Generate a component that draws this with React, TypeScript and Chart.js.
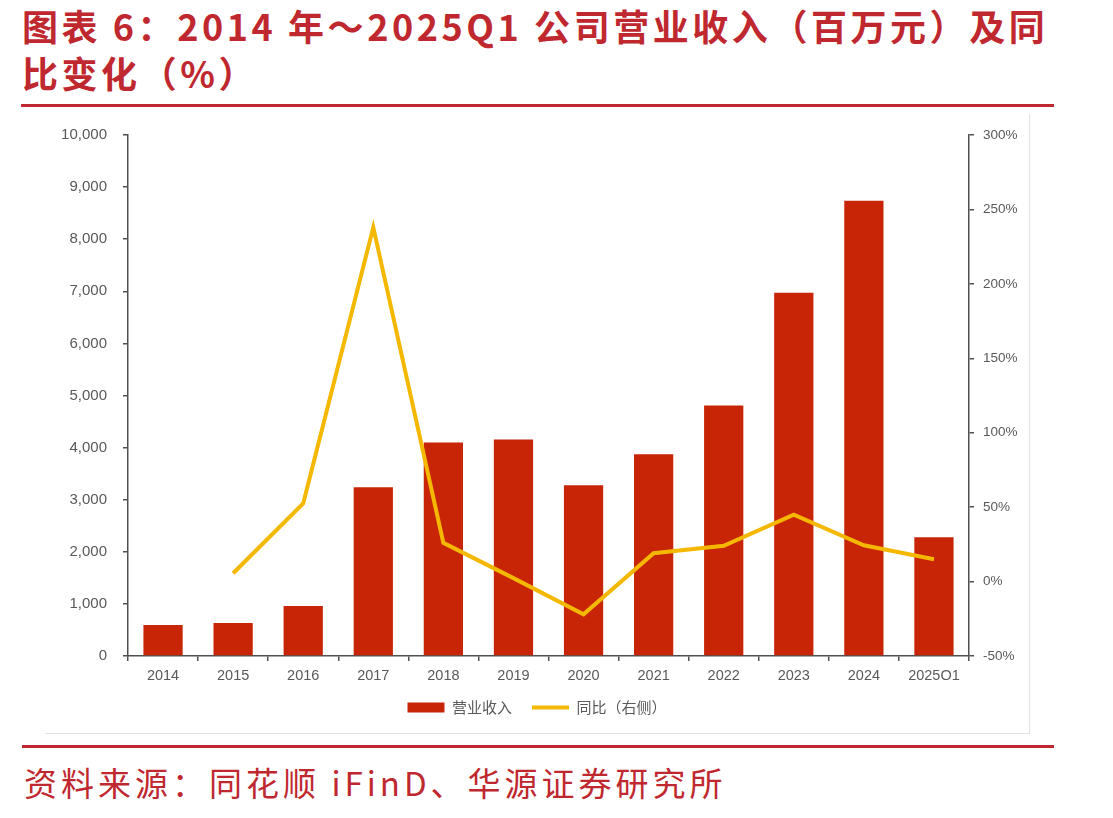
import React, { useEffect, useRef } from "react";
import { Chart, registerables } from "chart.js";

Chart.register(...registerables);

const categories = ["2014", "2015", "2016", "2017", "2018", "2019", "2020", "2021", "2022", "2023", "2024", "2025Q1"];
const revenue = [595, 632, 958, 3240, 4100, 4157, 3276, 3870, 4808, 6973, 8736, 2280];
const yoy = [null, 5.6, 52.5, 238, 26, 2.3, -22, 19, 24, 45, 24.4, 15];
const leftTicks = [0, 1000, 2000, 3000, 4000, 5000, 6000, 7000, 8000, 9000, 10000];
const rightTicks = [-50, 0, 50, 100, 150, 200, 250, 300];

const TITLE_1 = "图表 6：2014 年～2025Q1 公司营业收入（百万元）及同";
const TITLE_2 = "比变化（%）";
const SOURCE = "资料来源：同花顺 iFinD、华源证券研究所";
const SERIES_BAR = "营业收入";
const SERIES_LINE = "同比（右侧）";

const RED = "#C0282F";
const BAR = "#C82506";
const GOLD = "#F5B800";
const AXIS = "#505050";
const TICK_TXT = "#595959";
const FONT = "'Noto Sans CJK SC', 'Liberation Sans', sans-serif";
const LATIN = "'Liberation Sans', Arial, sans-serif";

export default function App() {
  const ref = useRef<HTMLCanvasElement | null>(null);

  useEffect(() => {
    document.body.style.margin = "0";
    const canvas = ref.current;
    if (!canvas) return;
    const chart = new Chart(canvas, {
      data: {
        labels: categories,
        datasets: [
          {
            type: "line",
            label: SERIES_LINE,
            data: yoy as any,
            yAxisID: "y1",
            borderColor: GOLD,
            backgroundColor: GOLD,
            borderWidth: 4,
            pointRadius: 0,
            pointStyle: "line",
            tension: 0,
            order: 0,
          } as any,
          {
            type: "bar",
            label: SERIES_BAR,
            data: revenue,
            yAxisID: "y",
            backgroundColor: BAR,
            borderWidth: 0,
            categoryPercentage: 1,
            barPercentage: 0.56,
            pointStyle: "rect",
            order: 1,
          } as any,
        ],
      },
      options: {
        animation: false,
        responsive: false,
        maintainAspectRatio: false,
        layout: { padding: { top: 21, bottom: 8, left: 0, right: 0 } },
        plugins: {
          tooltip: { enabled: false },
          legend: {
            position: "bottom",
            reverse: true,
            labels: {
              usePointStyle: true,
              pointStyleWidth: 37,
              boxHeight: 10,
              padding: 20,
              color: TICK_TXT,
              font: { family: FONT, size: 15 },
            },
          },
        },
        scales: {
          x: {
            type: "category",
            grid: { display: true, drawOnChartArea: false, drawTicks: true, tickLength: 5, color: AXIS, lineWidth: 1.5, offset: true },
            border: { display: true, color: AXIS, width: 1.5 },
            ticks: { color: TICK_TXT, font: { family: LATIN, size: 14.5 }, padding: 6, maxRotation: 0, autoSkip: false },
            afterFit: (s: any) => { s.height = 24; },
          },
          y: {
            position: "left",
            min: 0,
            max: 10000,
            afterBuildTicks: (s: any) => { s.ticks = leftTicks.map((v) => ({ value: v })); },
            grid: { drawOnChartArea: false, drawTicks: true, tickLength: 5, color: AXIS, lineWidth: 1.5 },
            border: { display: true, color: AXIS, width: 1.5 },
            ticks: {
              color: TICK_TXT,
              font: { family: LATIN, size: 15 },
              padding: 16,
              callback: (v: any) => Number(v).toLocaleString("en-US"),
            },
            afterFit: (s: any) => { s.width = 83; s.paddingTop = 0; s.paddingBottom = 0; },
          },
          y1: {
            position: "right",
            min: -50,
            max: 300,
            afterBuildTicks: (s: any) => { s.ticks = rightTicks.map((v) => ({ value: v })); },
            grid: { drawOnChartArea: false, drawTicks: true, tickLength: 5, color: AXIS, lineWidth: 1.5 },
            border: { display: true, color: AXIS, width: 1.5 },
            ticks: {
              color: TICK_TXT,
              font: { family: LATIN, size: 13.5 },
              padding: 9,
              callback: (v: any) => `${v}%`,
            },
            afterFit: (s: any) => { s.width = 60; s.paddingTop = 0; s.paddingBottom = 0; },
          },
        },
      } as any,
    });
    return () => chart.destroy();
  }, []);

  return (
    <div style={{ position: "relative", width: 1113, height: 818, background: "#fff", overflow: "hidden" }}>
      <div
        style={{
          position: "absolute",
          left: 22,
          top: 2,
          fontFamily: FONT,
          fontWeight: 700,
          fontSize: 36,
          lineHeight: "47px",
          letterSpacing: "3.55px",
          color: RED,
          whiteSpace: "nowrap",
        }}
      >
        <div>{TITLE_1}</div>
        <div>{TITLE_2}</div>
      </div>
      <div style={{ position: "absolute", left: 21, top: 104, width: 1033, height: 3, background: RED }} />
      <div
        style={{
          position: "absolute",
          left: 45,
          top: 114,
          width: 984,
          height: 619,
          borderRight: "1px solid #E2E2E2",
          borderBottom: "1px solid #E2E2E2",
        }}
      >
        <canvas ref={ref} width={984} height={619} style={{ display: "block" }} />
      </div>
      <div style={{ position: "absolute", left: 22, top: 745, width: 1032, height: 3, background: RED }} />
      <div
        style={{
          position: "absolute",
          left: 24,
          top: 760,
          fontFamily: FONT,
          fontWeight: 400,
          fontSize: 33,
          lineHeight: "44px",
          letterSpacing: "4px",
          color: RED,
          whiteSpace: "nowrap",
        }}
      >
        {SOURCE}
      </div>
    </div>
  );
}
